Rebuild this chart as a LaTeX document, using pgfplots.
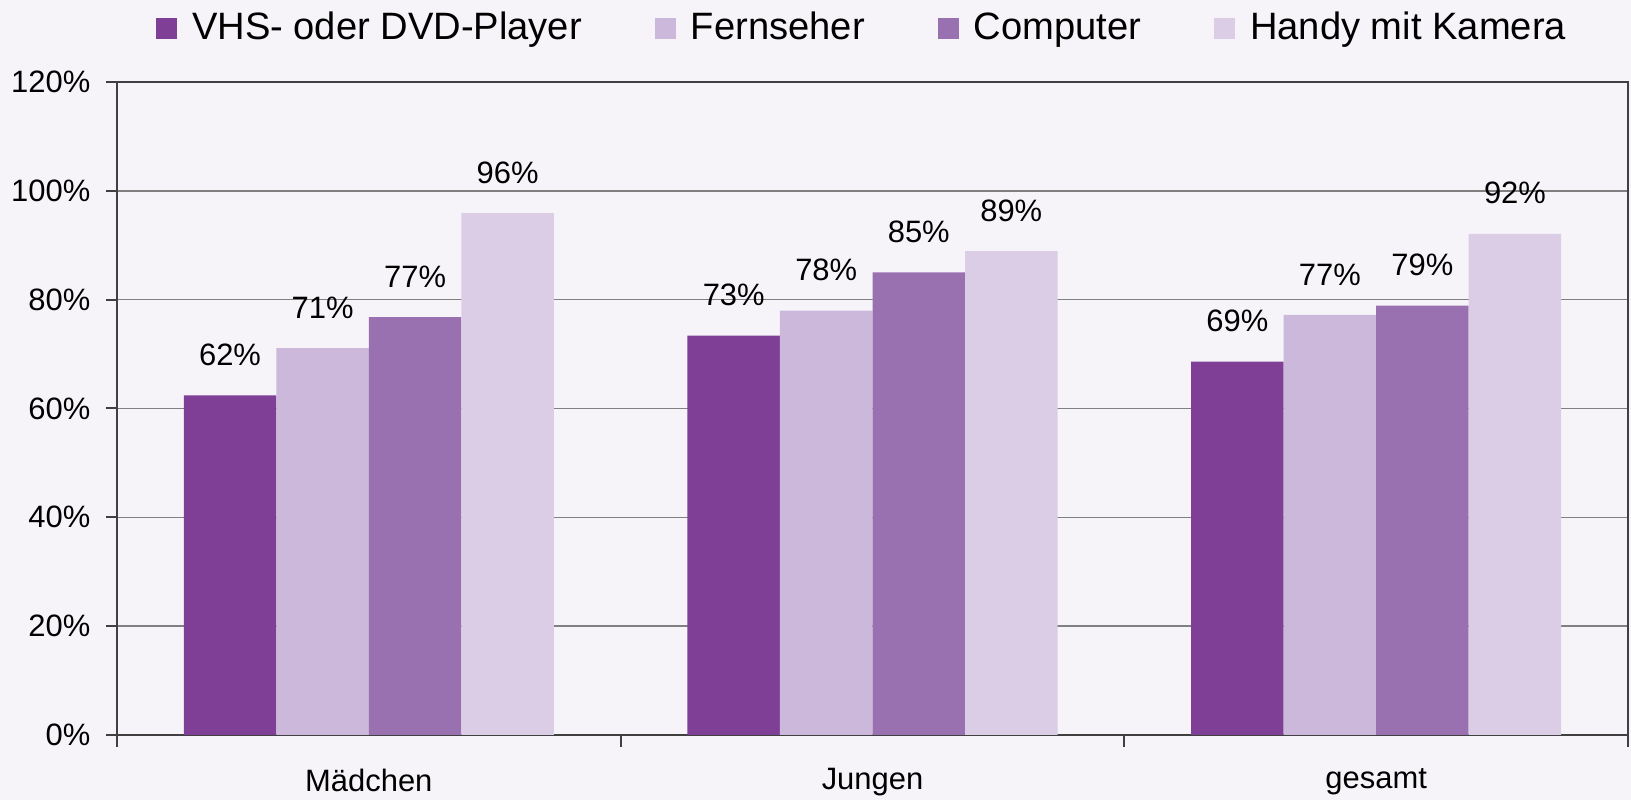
\documentclass[border=0pt]{standalone}
\usepackage{fontspec}
\setmainfont{Liberation Sans}
\usepackage{pgfplots}
\pgfplotsset{compat=1.18}
\definecolor{bgc}{HTML}{F6F4F9}
\definecolor{cA}{HTML}{7F3F97}
\definecolor{cB}{HTML}{CCB8DA}
\definecolor{cC}{HTML}{9A71B0}
\definecolor{cD}{HTML}{DBCDE5}
\definecolor{axc}{HTML}{404040}
\definecolor{gridc}{HTML}{808080}
\begin{document}
\begin{tikzpicture}
\path[use as bounding box, fill=bgc] (-11.7mm,-6.5mm) rectangle (151.4mm,73.5mm);
\begin{axis}[
  at={(0,0)}, anchor=south west,
  scale only axis, width=151.1mm, height=65.3mm,
  /pgf/number format/assume math mode=true,
  ybar=0pt, bar width=0.1837,
  xmin=-0.5, xmax=2.5, ymin=0, ymax=120,
  xtick={0,1,2}, xticklabels={Mädchen,Jungen,gesamt},
  minor xtick={-0.5,0.5,1.5,2.5},
  major x tick style={draw=none},
  xtick pos=bottom, ytick pos=left,
  ytick={0,20,...,120},
  yticklabel={\pgfmathprintnumber{\tick}\%},
  tick align=outside, major tick length=1.1mm, minor tick length=1.25mm,
  tick style={axc, line width=0.2mm},
  axis line style={axc, line width=0.2mm},
  ymajorgrids, grid style={gridc, line width=0.15mm},
  ticklabel style={font=\fontsize{8.8}{10}\selectfont, text=black},
  xticklabel style={inner sep=0pt, anchor=north, yshift=-2.2mm},
  yticklabel style={inner sep=0pt, anchor=east, xshift=-1.5mm},
  nodes near coords={\pgfmathprintnumber[fixed, precision=0]{\pgfplotspointmeta}\%},
  every node near coord/.append style={font=\fontsize{8.8}{10}\selectfont, text=black, inner sep=0pt, anchor=south, yshift=2.9mm},
  legend columns=4,
  legend style={at={(rel axis cs:0.4924,1.082)}, anchor=center, draw=none, fill=none,
    font=\fontsize{10.85}{12}\selectfont,
    /tikz/every even column/.append style={column sep=7.3mm},
    nodes={inner sep=0pt}},
  legend image code/.code={\fill[#1] (0mm,-1.05mm) rectangle (2.1mm,1.05mm);},
  /tikz/every odd column/.append style={column sep=1.5mm},
]
\addplot[fill=cA, draw=none] coordinates {(0,62.4) (1,73.4) (2,68.6)};
\addplot[fill=cB, draw=none] coordinates {(0,71.1) (1,78.0) (2,77.2)};
\addplot[fill=cC, draw=none] coordinates {(0,76.8) (1,85.0) (2,78.9)};
\addplot[fill=cD, draw=none] coordinates {(0,95.9) (1,88.9) (2,92.1)};
\legend{VHS- oder DVD-Player, Fernseher, Computer, Handy mit Kamera}
\end{axis}
\end{tikzpicture}
\end{document}
